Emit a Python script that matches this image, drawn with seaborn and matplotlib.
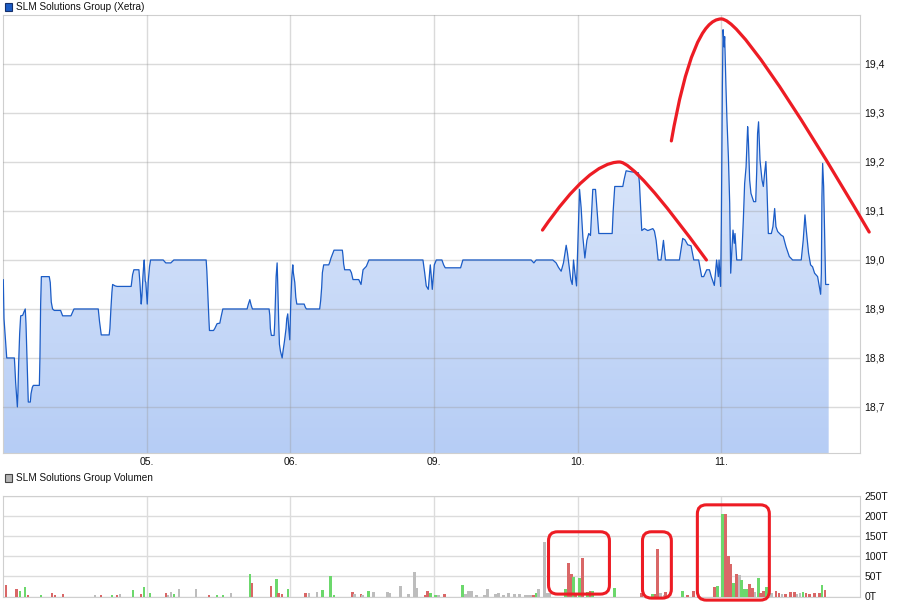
import numpy as np
import pandas as pd
import matplotlib
matplotlib.use('Agg')
import matplotlib.pyplot as plt
import seaborn as sns
from matplotlib.colors import LinearSegmentedColormap
from matplotlib.patches import Polygon, Rectangle, FancyBboxPatch, PathPatch
from matplotlib.path import Path
from matplotlib.transforms import IdentityTransform

sns.set_style('white')
plt.rcParams['font.family'] = ['Liberation Sans', 'DejaVu Sans']

# time axis in trading days: 0 = start of 04., 1 = 05., ...
day_pos = [1, 2, 3, 4, 5]
day_labels = ['05.', '06.', '09.', '10.', '11.']

price_ticks = [18.7, 18.8, 18.9, 19.0, 19.1, 19.2, 19.3, 19.4]
price_labels = ['18,7', '18,8', '18,9', '19,0', '19,1', '19,2', '19,3', '19,4']
vol_ticks = [0, 50, 100, 150, 200, 250]
vol_labels = ['0T', '50T', '100T', '150T', '200T', '250T']

price_t = [
    0.002, 0.007, 0.019, 0.026, 0.079, 0.083, 0.088, 0.095, 0.100, 0.104,
    0.109, 0.116, 0.123, 0.137, 0.146, 0.155, 0.160, 0.167, 0.176, 0.190,
    0.195, 0.204, 0.211, 0.253, 0.257, 0.262, 0.267, 0.322, 0.329, 0.336,
    0.345, 0.357, 0.401, 0.415, 0.473, 0.494, 0.663, 0.672, 0.684, 0.739,
    0.744, 0.751, 0.758, 0.763, 0.781, 0.795, 0.892, 0.902, 0.911, 0.946,
    0.953, 0.962, 0.967, 0.974, 0.978, 0.983, 0.990, 0.994, 1.004, 1.011,
    1.020, 1.027, 1.115, 1.133, 1.168, 1.189, 1.414, 1.419, 1.426, 1.433,
    1.437, 1.465, 1.474, 1.490,
    1.509, 1.518, 1.530, 1.699, 1.706, 1.718, 1.727, 1.736, 1.852, 1.857,
    1.861, 1.868, 1.887, 1.891, 1.896, 1.901, 1.908, 1.912, 1.919, 1.924,
    1.931, 1.943, 1.949, 1.959, 1.970, 1.975, 1.982, 1.989, 1.996, 2.003,
    2.010, 2.017, 2.021, 2.031, 2.038, 2.045, 2.096, 2.105, 2.112, 2.204,
    2.211, 2.218, 2.223, 2.232, 2.267, 2.274, 2.283, 2.295, 2.304, 2.362,
    2.366, 2.371, 2.378, 2.415, 2.425, 2.436, 2.476, 2.492, 2.506, 2.529,
    2.547, 2.923, 2.935, 2.946, 2.960, 2.974, 2.979, 2.988, 3.002, 3.016,
    3.055, 3.067, 3.078, 3.185, 3.201, 3.676, 3.695, 3.711, 3.827, 3.850,
    3.866, 3.885, 3.901, 3.920, 3.929, 3.943, 3.952, 3.962, 3.971, 3.980,
    3.992, 4.003, 4.013, 4.024, 4.036, 4.050, 4.064, 4.077, 4.089, 4.105,
    4.124, 4.135, 4.147, 4.240, 4.247, 4.258, 4.314, 4.323, 4.337, 4.372,
    4.423, 4.430, 4.446, 4.464, 4.488, 4.523, 4.534, 4.546, 4.560,
    4.580, 4.597, 4.611, 4.708, 4.731, 4.747, 4.766, 4.789, 4.808, 4.842,
    4.863, 4.877, 4.898, 4.917, 4.930, 4.951, 4.967, 4.979, 4.984, 4.995,
    5.000, 5.007, 5.012, 5.019, 5.023, 5.032, 5.039, 5.049, 5.058, 5.065,
    5.072, 5.081, 5.090, 5.095, 5.107, 5.141, 5.153, 5.162, 5.172, 5.183,
    5.188, 5.197, 5.206, 5.225, 5.239, 5.246, 5.252, 5.259, 5.269, 5.283,
    5.292, 5.301, 5.310, 5.317, 5.327, 5.348, 5.359, 5.371, 5.380, 5.392,
    5.415, 5.431, 5.450, 5.473, 5.496, 5.556, 5.570, 5.582, 5.591, 5.607,
    5.621, 5.635, 5.649, 5.670, 5.684, 5.691, 5.696, 5.700, 5.705, 5.712,
    5.719, 5.726, 5.747,
]

price = [
    18.96, 18.88, 18.83, 18.80, 18.80, 18.78, 18.75, 18.72, 18.70, 18.73,
    18.79, 18.85, 18.886, 18.887, 18.894, 18.90, 18.87, 18.80, 18.71, 18.71,
    18.727, 18.74, 18.744, 18.744, 18.80, 18.91, 18.966, 18.966, 18.954, 18.914,
    18.90, 18.897, 18.897, 18.886, 18.886, 18.90, 18.90, 18.874, 18.847, 18.847,
    18.86, 18.90, 18.934, 18.95, 18.947, 18.946, 18.946, 18.97, 18.98, 18.98,
    18.954, 18.91, 18.927, 18.967, 18.984, 19.00, 18.957, 18.954, 18.91, 18.957,
    18.987, 19.00, 19.00, 18.994, 18.994, 19.00, 19.00, 18.977, 18.927, 18.88,
    18.856, 18.856, 18.86, 18.87,
    18.871, 18.884, 18.90, 18.90, 18.908, 18.919, 18.908, 18.90, 18.90, 18.887,
    18.86, 18.846, 18.846, 18.87, 18.92, 18.966, 18.994, 18.954, 18.874, 18.828,
    18.814, 18.80, 18.814, 18.834, 18.86, 18.88, 18.89, 18.86, 18.837, 18.914,
    18.964, 18.99, 18.974, 18.954, 18.924, 18.91, 18.91, 18.903, 18.90, 18.90,
    18.917, 18.944, 18.974, 18.99, 18.99, 18.995, 19.004, 19.013, 19.02, 19.02,
    19.01, 18.992, 18.98, 18.98, 18.974, 18.96, 18.96, 18.95, 18.98, 18.987,
    19.00, 19.00, 18.974, 18.947, 18.94, 18.99, 18.974, 18.94, 18.99, 19.00,
    19.00, 18.99, 18.984, 18.984, 19.00, 19.00, 18.994, 19.00, 19.00, 18.994,
    18.985, 18.977, 18.994, 19.03, 19.014, 18.98, 18.96, 18.95, 19.00, 18.975,
    18.947, 19.05, 19.144, 19.107, 19.047, 19.004, 19.04, 19.054, 19.05, 19.144,
    19.144, 19.10, 19.054, 19.054, 19.10, 19.15, 19.15, 19.164, 19.182, 19.18,
    19.178, 19.156, 19.06, 19.064, 19.06, 19.064, 19.059, 19.04, 19.00,
    19.00, 19.04, 19.00, 19.00, 19.044, 19.041, 19.031, 19.029, 19.00, 19.00,
    18.966, 18.966, 18.98, 18.98, 18.966, 18.948, 19.00, 18.966, 19.00, 18.946,
    19.08, 19.354, 19.47, 19.435, 19.456, 19.354, 19.286, 19.21, 19.116, 18.973,
    19.014, 19.061, 19.034, 19.054, 19.00, 19.00, 19.082, 19.156, 19.19, 19.272,
    19.245, 19.163, 19.136, 19.119, 19.119, 19.18, 19.258, 19.282, 19.204, 19.163,
    19.15, 19.177, 19.201, 19.15, 19.054, 19.054, 19.068, 19.105, 19.068, 19.058,
    19.051, 19.048, 19.027, 19.007, 19.00, 19.00, 19.041, 19.092, 19.061, 19.014,
    18.99, 18.986, 18.973, 18.966, 18.942, 18.93, 18.973, 19.129, 19.197, 19.15,
    19.054, 18.95, 18.95,
]

# volume in thousands, direction: u = up, d = down, f = unchanged
vol_t = [
    0.019, 0.095, 0.118, 0.153, 0.174, 0.264, 0.341, 0.362, 0.417, 0.640,
    0.682, 0.758, 0.793, 0.814, 0.904, 0.960, 0.981, 1.022, 1.134, 1.147,
    1.168, 1.189, 1.224, 1.342, 1.433, 1.488, 1.530, 1.586, 1.718, 1.732,
    1.864, 1.905, 1.919, 1.940, 1.982, 2.107, 2.128, 2.184, 2.225, 2.281,
    2.302, 2.434, 2.448, 2.490, 2.503, 2.545, 2.580, 2.677, 2.691, 2.768,
    2.823, 2.865, 2.879, 2.942, 2.956, 2.976, 3.011, 3.032, 3.074, 3.197,
    3.220, 3.241, 3.262, 3.296, 3.352, 3.373, 3.428, 3.449, 3.484, 3.519,
    3.561, 3.595, 3.637, 3.658, 3.679, 3.693, 3.713, 3.727, 3.769, 3.783,
    3.804, 3.915, 3.936, 3.957, 3.971, 3.985, 4.013, 4.033, 4.068, 4.089,
    4.103, 4.256, 4.444, 4.520, 4.541, 4.555, 4.576, 4.604, 4.611, 4.729,
    4.764, 4.805, 4.951, 4.972, 5.007, 5.028, 5.049, 5.063, 5.083, 5.104,
    5.125, 5.139, 5.160, 5.181, 5.195, 5.216, 5.236, 5.257, 5.271, 5.292,
    5.313, 5.348, 5.382, 5.403, 5.424, 5.445, 5.480, 5.508, 5.528, 5.549,
    5.570, 5.591, 5.612, 5.647, 5.682, 5.702, 5.723,
]
vol_k = [
    28, 18, 13, 23, 3, 3, 8, 3, 6, 3,
    3, 3, 3, 6, 16, 6, 23, 8, 8, 3,
    11, 6, 18, 18, 3, 3, 3, 8, 56, 33,
    26, 43, 8, 6, 18, 8, 8, 11, 16, 51,
    3, 11, 6, 6, 3, 13, 11, 11, 8, 26,
    6, 61, 21, 3, 13, 8, 3, 3, 6, 28,
    5, 13, 13, 3, 3, 18, 6, 8, 3, 8,
    6, 6, 3, 3, 3, 3, 8, 18, 136, 8,
    8, 18, 84, 56, 49, 9, 46, 96, 12, 13,
    13, 21, 8, 6, 6, 118, 8, 3, 11, 13,
    3, 13, 23, 26, 206, 206, 101, 81, 33, 56,
    53, 41, 18, 18, 31, 21, 11, 46, 8, 13,
    23, 8, 13, 8, 6, 6, 11, 11, 6, 8,
    11, 8, 6, 8, 8, 28, 16,
]
vol_dir = list(
    'dduududddf'
    'dudfuduudf'
    'fuffduufud'
    'duddudffuu'
    'udfdfuffff'
    'fffdduufdu'
    'ffffffffff'
    'fffffdufff'
    'fuddududud'
    'uududdffdu'
    'ddduudddud'
    'fuuuddfudd'
    'ufddfdddff'
    'uddddud'
)

# hand-drawn red annotations: start, peak, end, and the x of the two
# half-curve control points (price chart)
arc_small = [(3.755, 19.061), (4.291, 19.200), (4.896, 19.000), 4.08, 4.40]
arc_big = [(4.652, 19.243), (5.000, 19.492), (6.029, 19.057), 4.80, 5.16]
# red boxes on the volume chart: t0, t1, vol0, vol1
vol_boxes = [(3.797, 4.221, 6, 161), (4.451, 4.652, -4, 161), (4.833, 5.334, -9, 228)]

dir_colors = {'u': '#6cd86c', 'd': '#d96767', 'f': '#bdbdbd'}
red = '#ed1c24'
x_max = 5.965
y_lo, y_hi = 18.606, 19.50

fig = plt.figure(figsize=(9.07, 6.07), dpi=100)
ax = fig.add_axes([3 / 907, 154 / 607, 857 / 907, 438 / 607])
axv = fig.add_axes([3 / 907, 10.5 / 607, 857 / 907, 100.5 / 607])

# price panel
df = pd.DataFrame({'t': price_t, 'kurs': price})
grad = np.linspace(0, 1, 256).reshape(-1, 1)
cmap = LinearSegmentedColormap.from_list('fill', ['#eaf1fd', '#b6cdf5'])
im = ax.imshow(grad, extent=[0, x_max, y_lo, y_hi], origin='upper',
               aspect='auto', cmap=cmap, zorder=1)
verts = [(price_t[0], y_lo)] + list(zip(price_t, price)) + [(price_t[-1], y_lo)]
im.set_clip_path(Polygon(verts, closed=True, transform=ax.transData))
sns.lineplot(data=df, x='t', y='kurs', ax=ax, color='#1b5cc6', lw=0.9,
             sort=False, estimator=None, zorder=4)

ax.set_xlim(0, x_max)
ax.set_ylim(y_lo, y_hi)
ax.set_xticks(day_pos)
ax.set_xticklabels(day_labels)
ax.set_yticks(price_ticks)
ax.set_yticklabels(price_labels)
ax.yaxis.tick_right()
ax.set_xlabel('')
ax.set_ylabel('')
ax.grid(True, color='#9a9a9a', alpha=0.36, lw=1)
ax.set_axisbelow(False)
ax.tick_params(length=0, labelsize=7.5, colors='#111111', pad=3)
for s in ax.spines.values():
    s.set_color('#cfcfcf')

for p0, pk, p2, cx_left, cx_right in [arc_small, arc_big]:
    path = Path([p0, (cx_left, pk[1]), pk, (cx_right, pk[1]), p2],
                [Path.MOVETO, Path.CURVE3, Path.CURVE3, Path.CURVE3, Path.CURVE3])
    ax.add_patch(PathPatch(path, fill=False, ec=red, lw=2.3, clip_on=False,
                           zorder=6, capstyle='round'))

# volume panel
axv.bar(vol_t, vol_k, width=0.017, color=[dir_colors[d] for d in vol_dir],
        linewidth=0, antialiased=False, zorder=3)
axv.set_xlim(0, x_max)
axv.set_ylim(0, 250)
axv.set_xticks(day_pos)
axv.set_xticklabels([])
axv.set_yticks(vol_ticks)
axv.set_yticklabels(vol_labels)
axv.yaxis.tick_right()
axv.grid(True, color='#dcdcdc', lw=1)
axv.set_axisbelow(True)
axv.tick_params(length=0, labelsize=7.5, colors='#111111', pad=3)
for s in axv.spines.values():
    s.set_color('#cfcfcf')

for t0, t1, v0, v1 in vol_boxes:
    (x0, y0), (x1, y1) = axv.transData.transform([(t0, v0), (t1, v1)])
    fig.add_artist(FancyBboxPatch((x0, y0), x1 - x0, y1 - y0,
                                  boxstyle='round,pad=0,rounding_size=9',
                                  transform=IdentityTransform(), fill=False,
                                  ec=red, lw=2.2, zorder=6))

# headers
fig.add_artist(Rectangle((5 / 907, 1 - 11 / 607), 7 / 907, 8 / 607,
                         transform=fig.transFigure, fc='#1c5cc4', ec='#16306a', lw=0.8))
fig.text(16 / 907, 1 - 7 / 607, 'SLM Solutions Group (Xetra)', fontsize=7.2,
         va='center', ha='left', color='#111111')
fig.add_artist(Rectangle((5 / 907, 1 - 482 / 607), 7 / 907, 8 / 607,
                         transform=fig.transFigure, fc='#b4b4b4', ec='#444444', lw=0.8))
fig.text(16 / 907, 1 - 478 / 607, 'SLM Solutions Group Volumen', fontsize=7.2,
         va='center', ha='left', color='#111111')

fig.savefig('out.png', dpi=100)
